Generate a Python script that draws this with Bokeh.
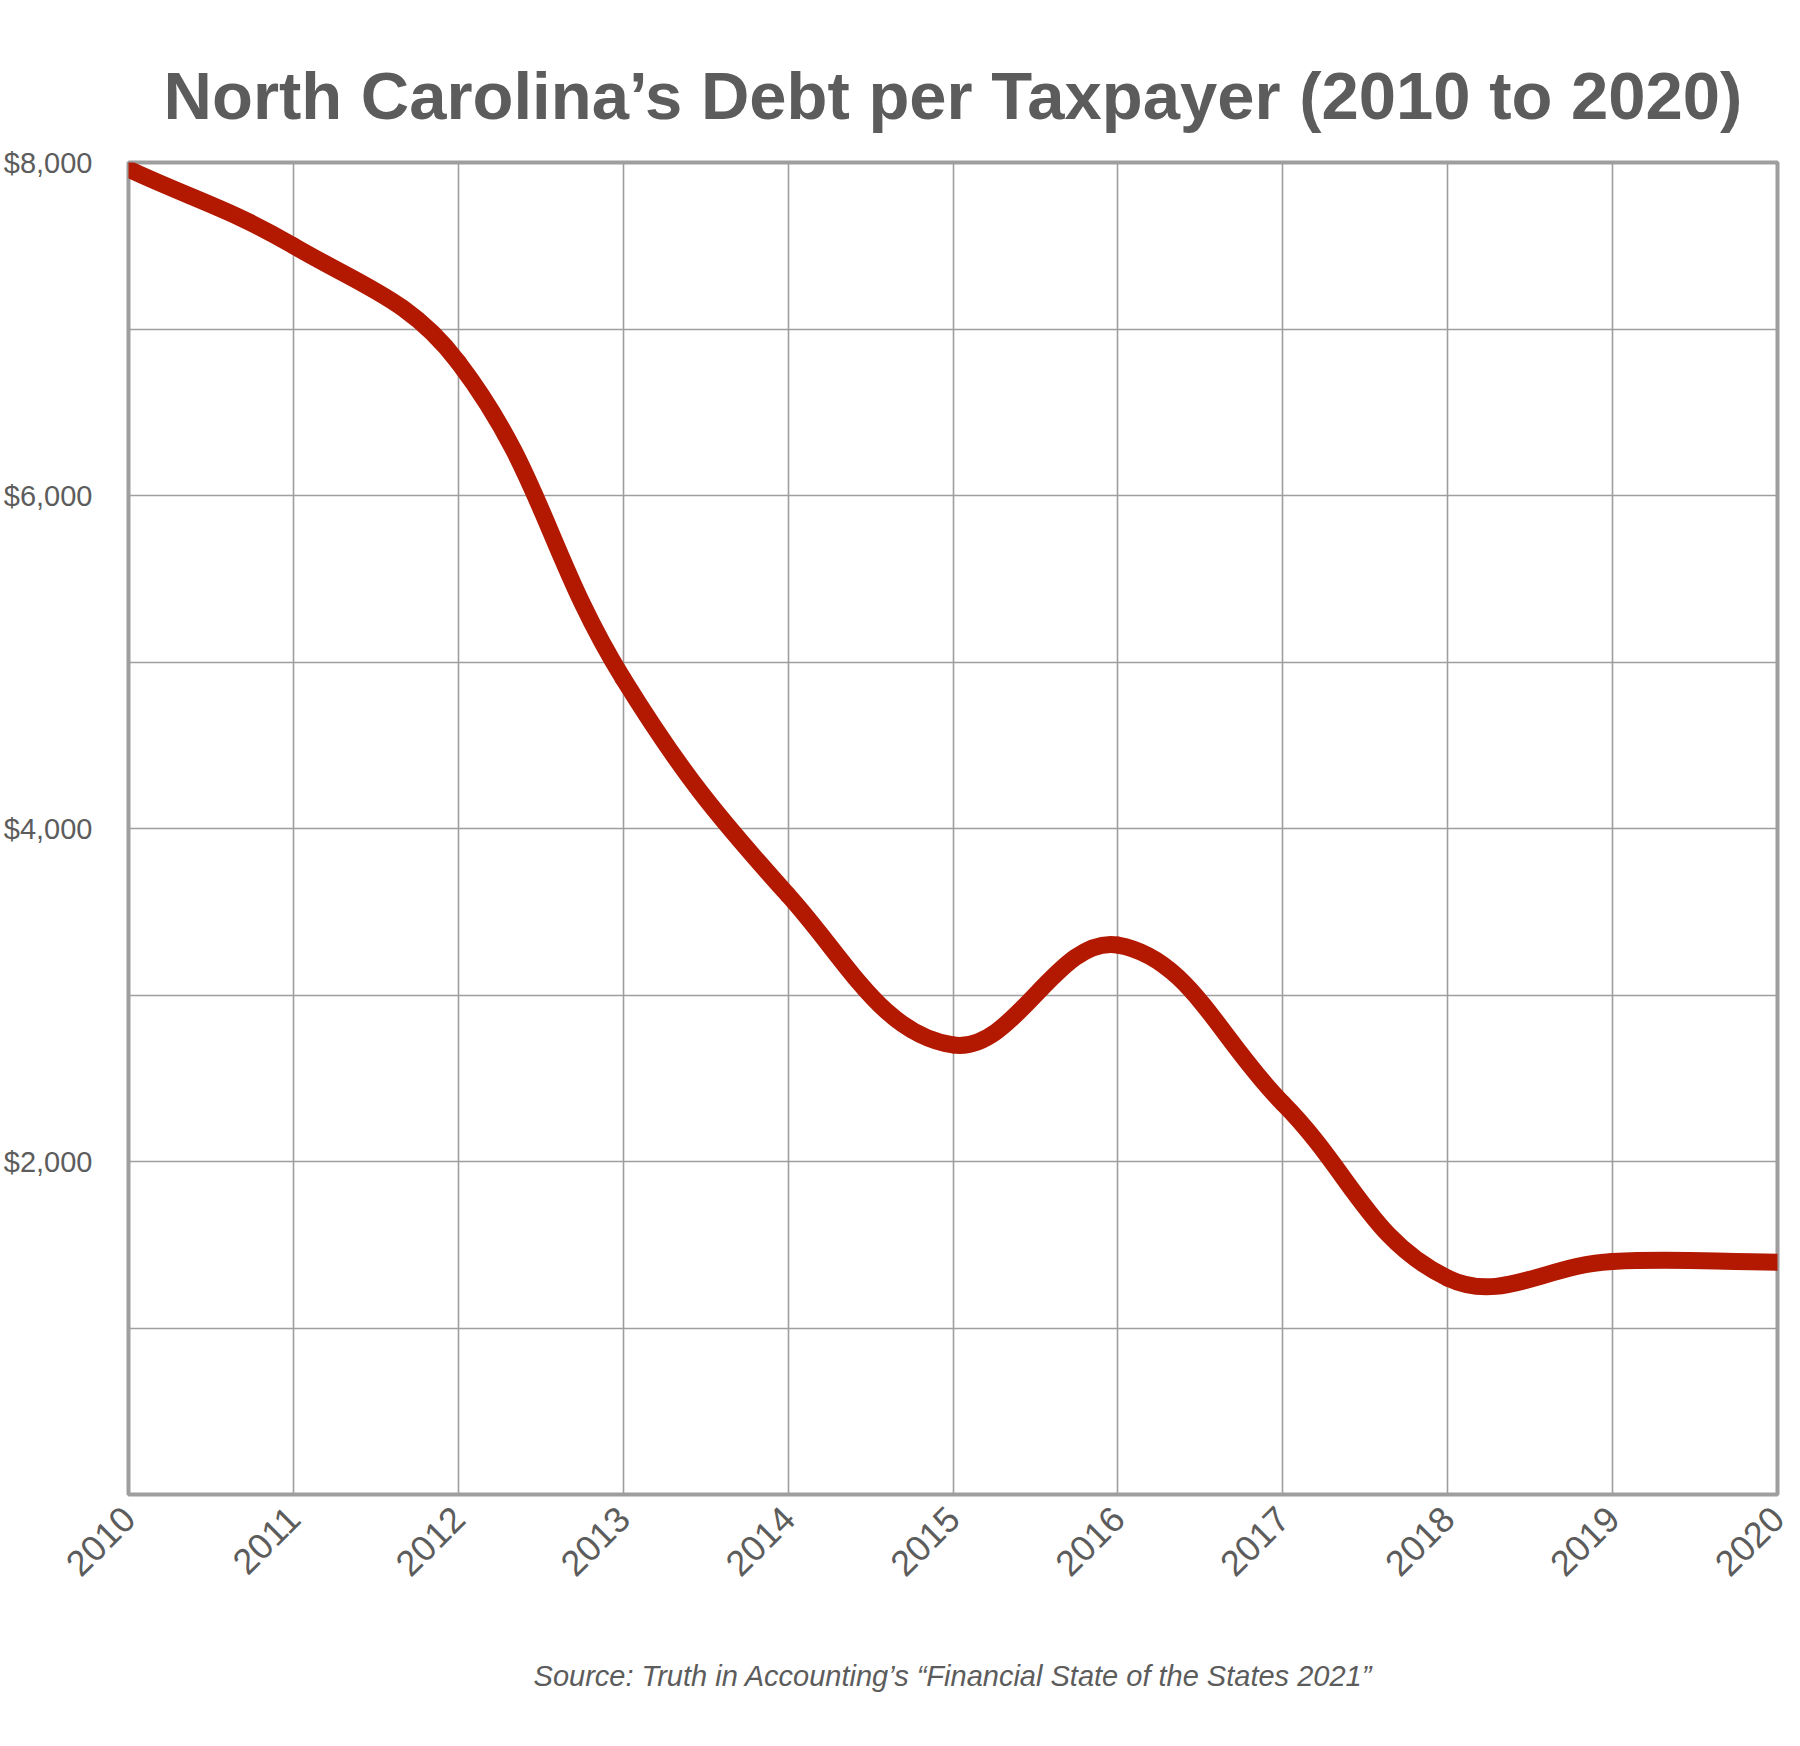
from bokeh.plotting import figure
from bokeh.models import FixedTicker, Title, Range1d
from bokeh.embed import file_html
from bokeh.resources import INLINE

# ---- data ----
years = [2010, 2011, 2012, 2013, 2014, 2015, 2016, 2017, 2018, 2019, 2020]
debt_per_taxpayer = [7960, 7500, 6800, 4900, 3600, 2700, 3300, 2350, 1300, 1400, 1395]
y_ticks = [0, 1000, 2000, 3000, 4000, 5000, 6000, 7000, 8000]
y_tick_labels = {2000: "$2,000", 4000: "$4,000", 6000: "$6,000", 8000: "$8,000"}
x_tick_labels = [str(y) for y in years]
title_text = "North Carolina\u2019s Debt per Taxpayer (2010 to 2020)"
source_text = "Source: Truth in Accounting\u2019s \u201cFinancial State of the States 2021\u201d"

# ---- layout / style ----
BL, BR, BT, BB = 123, 15, 162, 236
FRAME_W, FRAME_H = 1654, 1332
W, H = BL + FRAME_W + BR, BT + FRAME_H + BB
GRAY_TXT = "#5c5c5c"
GRID = "#9e9e9e"
LINE = "#b31800"
FONT = "Liberation Sans"

p = figure(width=W, height=H, output_backend="svg", toolbar_location=None,
           x_range=Range1d(years[0], years[-1]), y_range=Range1d(0, 8000),
           min_border_left=BL, min_border_right=BR, min_border_top=BT, min_border_bottom=BB)
p.title = None

# smooth curve (Chart.js-like spline, tension 0.4) computed in pixel-like space
sx = FRAME_W / (years[-1] - years[0])
sy = FRAME_H / 8000.0
tension = 0.4
n = len(years)
cp_prev, cp_next = [], []
for i in range(n):
    x0, y0 = years[max(i - 1, 0)], debt_per_taxpayer[max(i - 1, 0)]
    x1, y1 = years[i], debt_per_taxpayer[i]
    x2, y2 = years[min(i + 1, n - 1)], debt_per_taxpayer[min(i + 1, n - 1)]
    d01 = ((x1 - x0) ** 2 * sx * sx + (y1 - y0) ** 2 * sy * sy) ** 0.5
    d12 = ((x2 - x1) ** 2 * sx * sx + (y2 - y1) ** 2 * sy * sy) ** 0.5
    tot = d01 + d12
    s01 = d01 / tot if tot else 0
    s12 = d12 / tot if tot else 0
    fa, fb = tension * s01, tension * s12
    cp_prev.append((x1 - fa * (x2 - x0), y1 - fa * (y2 - y0)))
    cp_next.append((x1 + fb * (x2 - x0), y1 + fb * (y2 - y0)))

p.bezier(x0=years[:-1], y0=debt_per_taxpayer[:-1], x1=years[1:], y1=debt_per_taxpayer[1:],
         cx0=[c[0] for c in cp_next[:-1]], cy0=[c[1] for c in cp_next[:-1]],
         cx1=[c[0] for c in cp_prev[1:]], cy1=[c[1] for c in cp_prev[1:]],
         line_color=LINE, line_width=17, line_cap="round")

# axes
p.xaxis.ticker = FixedTicker(ticks=years)
p.xaxis.major_label_overrides = {y: s for y, s in zip(years, x_tick_labels)}
p.xaxis.major_label_orientation = 0.785398
p.yaxis.ticker = FixedTicker(ticks=y_ticks)
p.yaxis.major_label_overrides = {t: y_tick_labels.get(t, "") for t in y_ticks}
for ax in (p.xaxis, p.yaxis):
    ax.axis_line_color = None
    ax.major_tick_line_color = None
    ax.minor_tick_line_color = None
    ax.major_label_text_font = FONT
    ax.major_label_text_color = GRAY_TXT
p.yaxis.major_label_text_font_size = "29px"
p.yaxis.major_label_standoff = 30
p.xaxis.major_label_text_font_size = "36px"
p.xaxis.major_label_standoff = 12

# source line as the x axis label
p.xaxis.axis_label = source_text
p.xaxis.axis_label_text_font = FONT
p.xaxis.axis_label_text_font_size = "29px"
p.xaxis.axis_label_text_font_style = "italic"
p.xaxis.axis_label_text_color = GRAY_TXT
p.xaxis.axis_label_standoff = 69

p.xgrid.grid_line_color = GRID
p.ygrid.grid_line_color = GRID
p.xgrid.grid_line_width = 1.6
p.ygrid.grid_line_width = 1.6
p.outline_line_color = GRID
p.outline_line_width = 4
p.background_fill_color = "white"
p.border_fill_color = "white"

t = Title(text=title_text, align="center", text_font=FONT, text_font_size="67px",
          text_font_style="bold", text_color=GRAY_TXT, standoff=60)
p.add_layout(t, "above")

open("out.html", "w").write(file_html(p, INLINE))
